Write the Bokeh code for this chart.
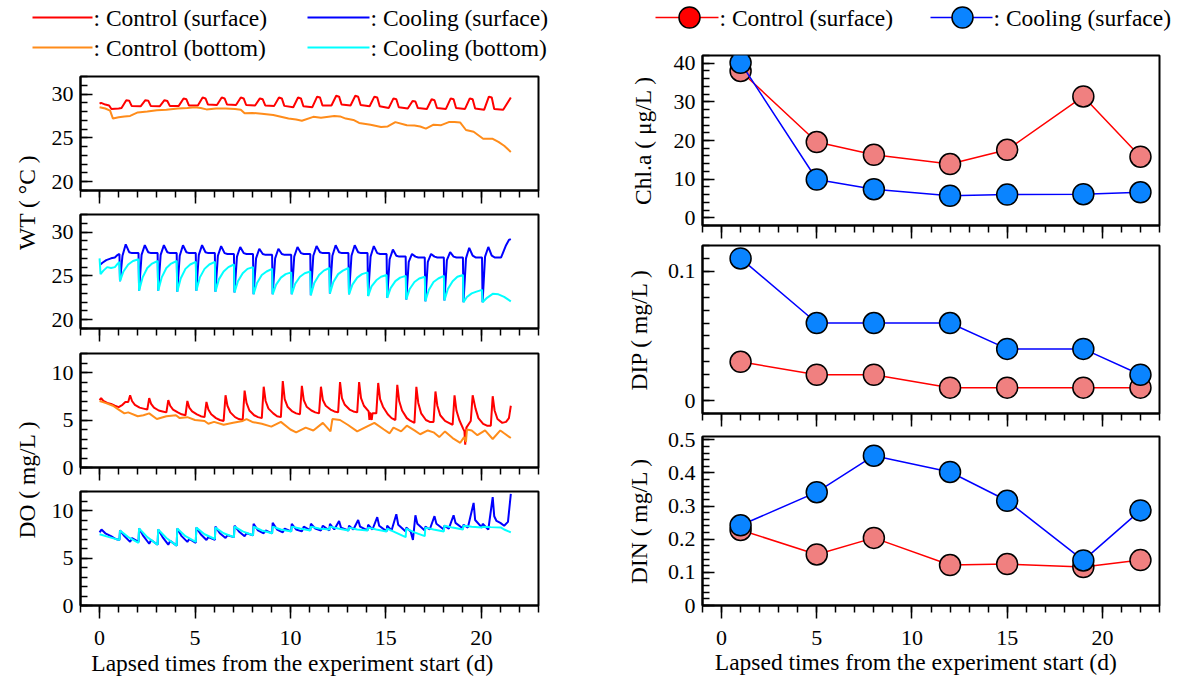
from math import pi
from bokeh.plotting import figure
from bokeh.layouts import column, row
from bokeh.models import Range1d, FixedTicker, CustomJSTickFormatter
from bokeh.core.properties import value
from bokeh.embed import file_html
from bokeh.resources import INLINE

FONT = "Liberation Serif"
TICK_FS = "22px"
LAB_FS = "23.5px"
RED = "#FF0000"
ORANGE = "#FF8C1A"
BLUE = "#0000FF"
CYAN = "#00FFFF"
RED_FILL = "#F08080"
BLUE_FILL = "#0A84FF"

XLABEL = "Lapsed times from the experiment start (d)"
X_MAJOR = [0, 5, 10, 15, 20]
X_MINOR = list(range(-1, 24))

# ---------------- Water temperature, control ----------------
t_wt_cs = [0.00, 0.08, 0.30, 0.50, 0.62, 1.00, 1.15, 1.40, 1.55, 1.68,
           2.15, 2.40, 2.55, 2.68, 3.15, 3.40, 3.55, 3.68, 4.15, 4.40, 4.55, 4.68, 5.15, 5.40, 5.55, 5.68,
           6.15, 6.40, 6.55, 6.68, 7.15, 7.40, 7.55, 7.68, 8.15, 8.40, 8.55, 8.68, 9.15, 9.40, 9.55, 9.68,
           10.15, 10.40, 10.55, 10.68, 11.15, 11.40, 11.55, 11.68, 12.15, 12.40, 12.55, 12.68, 13.15, 13.40, 13.55, 13.68,
           14.15, 14.40, 14.55, 14.68, 15.15, 15.40, 15.55, 15.68, 16.15, 16.40, 16.55, 16.68, 17.15, 17.40, 17.55, 17.68,
           18.15, 18.40, 18.55, 18.68, 19.15, 19.40, 19.55, 19.68, 20.15, 20.40, 20.55, 20.68, 21.15, 21.55]
v_wt_cs = [28.9, 29.0, 28.8, 28.7, 28.3, 28.35, 28.4, 29.3, 29.25, 28.65,
           28.6, 29.3, 29.25, 28.65, 28.6, 29.3, 29.2, 28.65, 28.65, 29.5, 29.4, 28.7, 28.7, 29.6, 29.5, 28.8,
           28.75, 29.6, 29.5, 28.8, 28.75, 29.6, 29.5, 28.75, 28.7, 29.5, 29.4, 28.7, 28.65, 29.6, 29.5, 28.65,
           28.5, 29.6, 29.5, 28.6, 28.5, 29.7, 29.6, 28.7, 28.7, 29.8, 29.7, 28.8, 28.7, 29.8, 29.7, 28.75,
           28.6, 29.7, 29.6, 28.6, 28.4, 29.5, 29.4, 28.5, 28.35, 29.2, 29.15, 28.4, 28.3, 29.4, 29.3, 28.4,
           28.3, 29.5, 29.4, 28.4, 28.3, 29.5, 29.4, 28.35, 28.2, 29.7, 29.6, 28.3, 28.2, 29.6]

t_wt_cb = [0.00, 0.30, 0.55, 0.70, 1.00, 1.30, 1.60, 2.00, 2.50, 3.00, 3.50, 4.10, 4.60, 5.00, 5.30,
           5.60, 6.10, 6.60, 7.10, 7.40, 7.60, 8.00, 8.50, 9.10, 9.50, 9.90, 10.30, 10.60, 11.20, 11.60,
           12.30, 12.60, 12.90, 13.30, 13.60, 14.20, 14.75, 15.10, 15.50, 16.10, 16.50, 16.80, 17.10, 17.50,
           17.90, 18.30, 18.60, 18.90, 19.20, 19.60, 20.10, 20.60, 20.90, 21.20, 21.55]
v_wt_cb = [28.5, 28.35, 28.1, 27.2, 27.35, 27.45, 27.5, 27.9, 28.0, 28.15, 28.2, 28.35, 28.4, 28.5, 28.4,
           28.25, 28.35, 28.35, 28.3, 28.2, 27.8, 27.85, 27.75, 27.6, 27.4, 27.2, 27.1, 26.95, 27.4, 27.3,
           27.5, 27.45, 27.2, 27.05, 26.7, 26.5, 26.25, 26.3, 26.8, 26.45, 26.4, 26.3, 26.05, 26.5,
           26.45, 26.8, 26.8, 26.75, 25.9, 25.7, 24.9, 24.9, 24.55, 24.1, 23.4]

# ---------------- Water temperature, cooling ----------------
t_wt_ks = [0.00, 0.15, 0.35, 0.60, 0.80, 0.95, 1.04,
           1.07, 1.20, 1.37, 1.55, 1.70, 2.04, 2.07, 2.20, 2.37, 2.55, 2.70, 3.04,
           3.07, 3.20, 3.37, 3.55, 3.70, 4.04, 4.07, 4.20, 4.37, 4.55, 4.70, 5.04,
           5.07, 5.20, 5.37, 5.55, 5.70, 6.04, 6.07, 6.20, 6.37, 6.55, 6.70, 7.04,
           7.07, 7.20, 7.37, 7.55, 7.70, 8.04, 8.07, 8.20, 8.37, 8.55, 8.70, 9.04,
           9.07, 9.20, 9.37, 9.55, 9.70, 10.04, 10.07, 10.20, 10.37, 10.55, 10.70, 11.04,
           11.07, 11.20, 11.37, 11.55, 11.70, 12.04, 12.07, 12.20, 12.37, 12.55, 12.70, 13.04,
           13.07, 13.20, 13.37, 13.55, 13.70, 14.04, 14.07, 14.20, 14.37, 14.55, 14.70, 15.04,
           15.07, 15.20, 15.37, 15.55, 15.70, 16.04, 16.07, 16.20, 16.37, 16.55, 16.70, 17.04,
           17.07, 17.20, 17.37, 17.55, 17.70, 18.04, 18.07, 18.20, 18.37, 18.55, 18.70, 19.04,
           19.07, 19.20, 19.37, 19.55, 19.70, 20.04, 20.07, 20.20, 20.37, 20.55, 20.70, 21.04,
           21.30, 21.45, 21.55]
v_wt_ks = [26.2, 26.5, 26.8, 27.0, 27.1, 27.4, 27.5,
           24.4, 27.3, 28.6, 27.7, 27.6, 27.6, 23.3, 27.4, 28.5, 27.7, 27.6, 27.6,
           23.3, 27.4, 28.5, 27.7, 27.6, 27.6, 23.2, 27.3, 28.5, 27.7, 27.6, 27.6,
           23.3, 27.4, 28.5, 27.7, 27.6, 27.6, 23.2, 27.3, 28.4, 27.6, 27.5, 27.5,
           23.1, 27.2, 28.3, 27.6, 27.5, 27.5, 22.9, 27.0, 28.1, 27.5, 27.4, 27.4,
           22.9, 27.0, 28.1, 27.5, 27.4, 27.4, 22.9, 27.2, 28.3, 27.6, 27.5, 27.5,
           22.8, 27.3, 28.4, 27.7, 27.6, 27.6, 23.0, 27.3, 28.5, 27.7, 27.6, 27.6,
           22.9, 27.3, 28.5, 27.7, 27.6, 27.6, 22.7, 27.2, 28.4, 27.6, 27.5, 27.5,
           22.5, 26.9, 28.0, 27.3, 27.2, 27.2, 22.3, 26.6, 27.5, 27.2, 27.1, 27.1,
           22.1, 26.6, 27.5, 27.2, 27.1, 27.1, 22.2, 26.8, 27.7, 27.2, 27.1, 27.1,
           22.0, 27.0, 28.2, 27.3, 27.1, 27.1, 22.0, 27.2, 28.3, 27.3, 27.1, 27.1,
           28.5, 29.1, 29.2]

t_wt_kb = [0.00, 0.05, 0.20, 0.40, 0.60, 0.80, 0.95, 1.04,
           1.07, 1.25, 1.50, 1.75, 2.04, 2.07, 2.25, 2.50, 2.75, 3.04, 3.07, 3.25, 3.50, 3.75, 4.04,
           4.07, 4.25, 4.50, 4.75, 5.04, 5.07, 5.25, 5.50, 5.75, 6.04, 6.07, 6.25, 6.50, 6.75, 7.04,
           7.07, 7.25, 7.50, 7.75, 8.04, 8.07, 8.25, 8.50, 8.75, 9.04, 9.07, 9.25, 9.50, 9.75, 10.04,
           10.07, 10.25, 10.50, 10.75, 11.04, 11.07, 11.25, 11.50, 11.75, 12.04, 12.07, 12.25, 12.50, 12.75, 13.04,
           13.07, 13.25, 13.50, 13.75, 14.04, 14.07, 14.25, 14.50, 14.75, 15.04, 15.07, 15.25, 15.50, 15.75, 16.04,
           16.07, 16.25, 16.50, 16.75, 17.04, 17.07, 17.25, 17.50, 17.75, 18.04, 18.07, 18.25, 18.50, 18.75, 19.04,
           19.07, 19.25, 19.50, 19.75, 20.04, 20.07, 20.30, 20.60, 20.90, 21.20, 21.55]
v_wt_kb = [27.0, 25.2, 25.6, 26.0, 25.9, 26.0, 26.4, 26.6,
           24.4, 25.5, 26.3, 26.7, 26.9, 23.3, 24.8, 25.9, 26.4, 26.7, 23.3, 24.8, 25.9, 26.4, 26.7,
           23.2, 24.7, 25.8, 26.3, 26.6, 23.3, 24.8, 25.8, 26.3, 26.6, 23.2, 24.6, 25.5, 26.0, 26.3,
           23.1, 24.4, 25.3, 25.8, 26.0, 22.9, 24.2, 25.1, 25.5, 25.8, 22.9, 24.0, 24.8, 25.2, 25.4,
           22.9, 24.1, 24.9, 25.3, 25.5, 22.8, 24.2, 25.1, 25.6, 25.9, 23.0, 24.3, 25.2, 25.6, 25.9,
           22.9, 24.0, 24.8, 25.2, 25.4, 22.7, 23.8, 24.5, 24.9, 25.1, 22.5, 23.6, 24.4, 24.8, 25.0,
           22.3, 23.5, 24.3, 24.7, 24.9, 22.1, 23.4, 24.3, 24.7, 25.0, 22.2, 23.5, 24.4, 24.9, 25.1,
           22.0, 22.6, 23.0, 23.2, 23.4, 22.0, 22.5, 22.95, 22.9, 22.6, 22.1]

# ---------------- Dissolved oxygen, control ----------------
t_do_cs = [0.00, 0.08, 0.20, 0.40, 0.60, 0.80, 1.00, 1.20, 1.35, 1.50,
           1.60, 1.70, 1.85, 2.10, 2.30, 2.50, 2.60, 2.70, 2.85, 3.10, 3.30, 3.50,
           3.60, 3.70, 3.85, 4.10, 4.30, 4.50, 4.60, 4.70, 4.85, 5.10, 5.30, 5.50,
           5.60, 5.70, 5.85, 6.10, 6.30, 6.50, 6.60, 6.70, 6.85, 7.10, 7.30, 7.50,
           7.60, 7.70, 7.85, 8.10, 8.30, 8.50, 8.60, 8.70, 8.85, 9.10, 9.30, 9.50,
           9.60, 9.70, 9.85, 10.10, 10.30, 10.50, 10.60, 10.70, 10.85, 11.10, 11.30, 11.50,
           11.60, 11.70, 11.85, 12.10, 12.30, 12.50, 12.60, 12.70, 12.85, 13.10, 13.30, 13.50,
           13.60, 13.70, 13.85, 14.10, 14.14, 14.18, 14.26, 14.30, 14.50,
           14.60, 14.70, 14.85, 15.10, 15.30, 15.50, 15.60, 15.70, 15.85, 16.10, 16.30, 16.50,
           16.60, 16.70, 16.85, 17.10, 17.30, 17.50, 17.60, 17.70, 17.85, 18.10, 18.30, 18.50,
           18.60, 18.70, 18.85, 19.05, 19.12, 19.16, 19.22, 19.45,
           19.55, 19.70, 19.85, 20.10, 20.30, 20.50, 20.60, 20.70, 20.85, 21.10, 21.30, 21.45, 21.55]
v_do_cs = [7.1, 7.3, 7.0, 6.8, 6.7, 6.5, 6.35, 6.6, 6.9, 6.9,
           7.6, 7.0, 6.6, 6.3, 6.2, 6.1, 7.3, 6.7, 6.3, 6.0, 5.9, 5.8,
           7.1, 6.5, 6.1, 5.8, 5.6, 5.5, 7.0, 6.3, 5.9, 5.6, 5.4, 5.3,
           6.9, 6.1, 5.6, 5.2, 5.0, 4.9, 7.6, 6.5, 5.8, 5.3, 5.1, 5.0,
           8.1, 6.8, 6.0, 5.5, 5.3, 5.2, 8.5, 7.0, 6.2, 5.7, 5.4, 5.3,
           9.1, 7.2, 6.4, 5.9, 5.7, 5.6, 8.6, 7.1, 6.4, 6.0, 5.8, 5.7,
           8.5, 7.1, 6.5, 6.1, 5.9, 5.8, 9.0, 7.3, 6.6, 6.1, 5.9, 5.8,
           9.0, 7.3, 6.5, 5.9, 5.0, 5.8, 5.0, 5.7, 5.7,
           8.9, 7.2, 6.4, 5.6, 5.2, 5.0, 8.7, 7.0, 6.0, 5.2, 4.9, 4.7,
           8.5, 6.8, 5.7, 5.0, 4.8, 4.8, 8.0, 6.5, 5.5, 4.9, 4.7, 4.5,
           7.6, 6.0, 5.0, 4.1, 3.8, 2.4, 4.2, 4.9,
           7.6, 6.2, 5.2, 4.6, 4.4, 4.4, 7.5, 6.0, 5.1, 4.7, 4.8, 5.2, 6.5]

t_do_cb = [0.00, 0.30, 0.70, 1.00, 1.30, 1.50, 2.00, 2.30, 2.60, 3.00, 3.50, 4.00, 4.20, 4.60, 5.00,
           5.50, 5.70, 6.00, 6.50, 7.00, 7.50, 7.70, 8.00, 8.50, 9.00, 9.50, 10.00, 10.30, 10.80, 11.20,
           11.70, 12.10, 12.20, 12.60, 13.00, 13.50, 14.00, 14.40, 14.90, 15.20, 15.40, 15.80, 16.10, 16.50,
           16.80, 17.20, 17.50, 17.80, 18.10, 18.50, 18.90, 19.10, 19.20, 19.25, 19.50, 19.80, 20.20, 20.60,
           21.00, 21.20, 21.55]
v_do_cb = [7.0, 6.8, 6.5, 6.1, 5.7, 5.8, 5.4, 5.5, 5.7, 5.1, 5.4, 5.5, 5.2, 5.3, 5.0,
           4.9, 4.6, 4.8, 4.5, 4.7, 4.9, 5.1, 4.8, 4.6, 4.3, 4.8, 4.0, 3.7, 4.2, 3.9,
           4.7, 3.8, 5.1, 5.0, 4.5, 3.8, 4.3, 4.7, 4.0, 3.6, 4.2, 3.8, 4.4, 3.9,
           3.5, 3.9, 3.7, 3.2, 3.8, 3.1, 2.6, 3.2, 2.7, 4.0, 3.9, 3.4, 3.9, 3.0,
           3.9, 3.6, 3.1]

# ---------------- Dissolved oxygen, cooling ----------------
t_do_ks = [0.00, 0.10, 0.30, 0.60, 0.85, 1.04,
           1.07, 1.30, 1.60, 1.70, 2.04, 2.07, 2.30, 2.60, 2.70, 3.04, 3.07, 3.30, 3.60, 3.70, 4.04,
           4.07, 4.30, 4.60, 4.70, 5.04, 5.07, 5.30, 5.60, 5.70, 6.04, 6.07, 6.30, 6.60, 6.70, 7.04,
           7.07, 7.30, 7.60, 7.70, 8.04, 8.07, 8.30, 8.60, 8.70, 9.04, 9.07, 9.30, 9.60, 9.70, 10.04,
           10.07, 10.30, 10.60, 10.70, 11.04, 11.07, 11.30, 11.60, 11.70, 12.04,
           12.07, 12.30, 12.55, 12.65, 13.04, 13.07, 13.30, 13.55, 13.65, 14.04,
           14.07, 14.30, 14.55, 14.65, 15.04, 15.07, 15.30, 15.55, 15.65, 16.04,
           16.07, 16.30, 16.42, 16.55, 16.65, 17.04, 17.07, 17.30, 17.55, 17.65, 18.04,
           18.07, 18.30, 18.55, 18.65, 19.04, 19.07, 19.30, 19.60, 19.68, 20.04,
           20.07, 20.37, 20.60, 20.68, 20.80, 21.00, 21.20, 21.40, 21.55]
v_do_ks = [7.7, 8.0, 7.6, 7.3, 7.0, 6.9,
           7.9, 7.3, 6.7, 7.1, 6.7, 8.1, 7.3, 6.5, 6.9, 6.4, 8.0, 7.2, 6.4, 6.8, 6.3,
           8.1, 7.3, 6.7, 7.0, 6.6, 8.2, 7.5, 6.9, 7.2, 6.9, 8.3, 7.6, 7.1, 7.4, 7.2,
           8.4, 7.8, 7.3, 7.6, 7.4, 8.6, 7.9, 7.6, 7.9, 7.6, 8.7, 8.0, 7.7, 8.1, 7.8,
           8.6, 8.0, 7.8, 8.3, 7.9, 8.6, 8.1, 7.9, 8.4, 7.9,
           8.6, 8.0, 8.9, 8.2, 7.9, 8.4, 8.0, 9.0, 8.3, 7.9,
           8.5, 8.0, 9.3, 8.4, 7.8, 8.4, 7.9, 9.6, 8.5, 7.8,
           8.2, 7.8, 6.9, 9.5, 8.6, 7.9, 8.3, 8.0, 9.4, 8.6, 8.0,
           8.4, 8.1, 9.5, 8.7, 8.1, 8.5, 8.2, 10.8, 9.0, 8.2,
           8.6, 8.0, 11.4, 9.4, 8.9, 8.7, 8.4, 8.8, 11.75]

t_do_kb = [0.00, 0.50, 1.04,
           1.07, 1.50, 2.04, 2.07, 2.50, 3.04, 3.07, 3.50, 4.04, 4.07, 4.50, 5.04, 5.07, 5.50, 6.04,
           6.07, 6.50, 7.04, 7.07, 7.50, 8.04, 8.07, 8.50, 9.04, 9.07, 9.50, 10.04, 10.07, 10.50, 11.04,
           11.07, 11.50, 12.04, 12.07, 12.50, 13.04, 13.07, 13.50, 14.04, 14.07, 14.50, 15.04,
           15.07, 15.50, 16.04, 16.07, 16.50, 17.04, 17.07, 17.50, 18.04, 18.07, 18.50, 19.04,
           19.07, 19.50, 20.04, 20.07, 20.50, 21.04, 21.20, 21.55]
v_do_kb = [7.5, 7.2, 6.9,
           7.9, 7.2, 6.6, 8.1, 7.2, 6.4, 8.0, 7.1, 6.3, 8.1, 7.3, 6.7, 8.2, 7.5, 7.0,
           8.2, 7.6, 7.2, 8.3, 7.8, 7.4, 8.3, 7.9, 7.6, 8.3, 8.0, 7.8, 8.3, 8.1, 7.9,
           8.3, 8.1, 8.0, 8.3, 8.1, 7.9, 8.2, 8.0, 7.9, 8.2, 8.0, 7.8,
           8.1, 7.7, 7.2, 8.1, 7.7, 7.3, 8.2, 8.0, 7.8, 8.4, 8.2, 8.0,
           8.4, 8.3, 8.2, 8.3, 8.25, 8.2, 8.0, 7.7]

# ---------------- Water quality samples ----------------
sample_days = [1, 5, 8, 12, 15, 19, 22]
chla_control = [38.0, 19.6, 16.3, 13.9, 17.6, 31.4, 15.8]
chla_cooling = [40.1, 9.9, 7.4, 5.7, 6.0, 6.1, 6.6]
dip_control = [0.030, 0.020, 0.020, 0.010, 0.010, 0.010, 0.010]
dip_cooling = [0.110, 0.060, 0.060, 0.060, 0.040, 0.040, 0.020]
din_control = [0.228, 0.154, 0.204, 0.122, 0.125, 0.116, 0.137]
din_cooling = [0.242, 0.342, 0.452, 0.403, 0.316, 0.136, 0.287]

legend_left_labels = [": Control (surface)", ": Cooling (surface)", ": Control (bottom)", ": Cooling (bottom)"]
legend_right_labels = [": Control (surface)", ": Cooling (surface)"]


def base(**kw):
    return figure(toolbar_location=None, output_backend="svg", tools="", **kw)


def panel(yr, ymaj, ymin, fw, fh, mbl, mbr, mbt, mbb, xlabels=False, ylabel=None, yfmt=False, als=10):
    p = base(frame_width=fw, frame_height=fh, x_range=Range1d(-1, 23), y_range=Range1d(*yr),
             min_border_left=mbl, min_border_right=mbr, min_border_top=mbt, min_border_bottom=mbb)
    p.xgrid.visible = False
    p.ygrid.visible = False
    p.outline_line_color = "black"
    p.outline_line_width = 2
    p.outline_line_alpha = 1
    xa = p.xaxis[0]
    xa.ticker = FixedTicker(ticks=X_MAJOR, minor_ticks=X_MINOR)
    xa.major_tick_out = 13
    xa.major_tick_in = 0
    xa.minor_tick_out = 7
    xa.minor_tick_in = 0
    xa.axis_line_width = 2
    xa.axis_line_color = "black"
    xa.major_tick_line_width = 1.5
    xa.minor_tick_line_width = 1.5
    xa.major_tick_line_color = "black"
    xa.minor_tick_line_color = "black"
    xa.major_label_text_font = FONT
    xa.major_label_text_color = "black"
    if xlabels:
        xa.major_label_text_font_size = TICK_FS
        xa.major_label_standoff = 12
    else:
        xa.formatter = CustomJSTickFormatter(code="return '';")
        xa.major_label_text_font_size = "1px"
        xa.major_label_standoff = 0
    ya = p.yaxis[0]
    ya.ticker = FixedTicker(ticks=ymaj, minor_ticks=ymin)
    ya.major_tick_in = 12
    ya.major_tick_out = 0
    ya.minor_tick_in = 7
    ya.minor_tick_out = 0
    ya.axis_line_width = 2
    ya.axis_line_color = "black"
    ya.major_tick_line_width = 1.5
    ya.minor_tick_line_width = 1.5
    ya.major_tick_line_color = "black"
    ya.minor_tick_line_color = "black"
    ya.major_label_text_font = FONT
    ya.major_label_text_font_size = TICK_FS
    ya.major_label_text_color = "black"
    ya.major_label_standoff = 7
    if yfmt:
        ya.formatter = CustomJSTickFormatter(code="return String(Math.round(tick*1000)/1000);")
    if ylabel:
        ya.axis_label = ylabel
        ya.axis_label_text_font = FONT
        ya.axis_label_text_font_size = LAB_FS
        ya.axis_label_text_font_style = "normal"
        ya.axis_label_text_color = "black"
        ya.axis_label_standoff = als
    return p


def text_kw(**kw):
    d = dict(text_font=value(FONT), text_font_size=LAB_FS, text_baseline="middle", text_color="black",
             level="overlay")
    d.update(kw)
    return d


# ---------------- left block (page x 0..600) ----------------
LFW, LFH, LMBL, LMBR = 458, 114, 34, 62
p1 = panel((19, 32), [20, 25, 30], list(range(19, 33)), LFW, LFH, LMBL, LMBR, 10, 22)
p2 = panel((19, 32), [20, 25, 30], list(range(19, 33)), LFW, LFH, LMBL, LMBR, 2, 23)
p3 = panel((0, 12), [0, 5, 10], list(range(0, 13)), LFW, LFH, LMBL, LMBR, 2, 22)
p4 = panel((0, 12), [0, 5, 10], list(range(0, 13)), LFW, LFH, LMBL, LMBR, 2, 72, xlabels=True)

p1.line(t_wt_cs, v_wt_cs, line_color=RED, line_width=2)
p1.line(t_wt_cb, v_wt_cb, line_color=ORANGE, line_width=2)
p2.line(t_wt_ks, v_wt_ks, line_color=BLUE, line_width=2)
p2.line(t_wt_kb, v_wt_kb, line_color=CYAN, line_width=2)
p3.line(t_do_cs, v_do_cs, line_color=RED, line_width=2)
p3.line(t_do_cb, v_do_cb, line_color=ORANGE, line_width=2)
p4.line(t_do_ks, v_do_ks, line_color=BLUE, line_width=2)
p4.line(t_do_kb, v_do_kb, line_color=CYAN, line_width=2)
# x axis title below the bottom-left panel (57 px under the frame)
p4.text(x=[10.1], y=[-6.0], text=[XLABEL], **text_kw(text_align="center"))

# legend (left): x = page x, y = -page y
legL = base(width=600, height=66, x_range=Range1d(0, 600), y_range=Range1d(-66, 0),
            min_border=0, min_border_left=0, min_border_right=0, min_border_top=0, min_border_bottom=0,
            x_axis_type=None, y_axis_type=None)
legL.outline_line_color = None
legL.segment(x0=[32, 307, 32, 307], y0=[-17, -17, -47, -47], x1=[92, 369, 92, 369], y1=[-17, -17, -47, -47],
             line_color=[RED, BLUE, ORANGE, CYAN], line_width=2, level="overlay")
legL.text(x=[93, 370, 93, 370], y=[-17, -17, -47, -47], text=legend_left_labels, **text_kw(text_align="left"))

# y labels spanning the panel pairs: x = page x, y = -page y (frame covers page y 76..605)
labL = base(width=46, height=611, x_range=Range1d(0, 46), y_range=Range1d(-605, -76),
            min_border=0, min_border_left=0, min_border_right=0, min_border_top=10, min_border_bottom=72,
            x_axis_type=None, y_axis_type=None)
labL.outline_line_color = None
labL.text(x=[26, 26], y=[-202, -479], text=["WT ( °C )", "DO ( mg/L )"], angle=pi / 2,
          **text_kw(text_align="center"))

left_block = column(legL, row(labL, column(p1, p2, p3, p4)))

# ---------------- right block (page x 600..1178) ----------------
RFW, RMBL, RMBR = 457, 102, 19
r1 = panel((-2, 42), [0, 10, 20, 30, 40], list(range(-2, 43, 2)), RFW, 170, RMBL, RMBR, 10, 18,
           ylabel="Chl.a ( μg/L )", als=15)
r2 = panel((-0.01, 0.12), [0, 0.1], [round(i * 0.01, 2) for i in range(-1, 13)], RFW, 168, RMBL, RMBR, 2, 14,
           ylabel="DIP ( mg/L )", yfmt=True, als=13)
r3 = panel((0, 0.51), [0, 0.1, 0.2, 0.3, 0.4, 0.5], [round(i * 0.02, 2) for i in range(0, 26)], RFW, 169,
           RMBL, RMBR, 9, 72, xlabels=True, ylabel="DIN ( mg/L )", yfmt=True, als=13)

for r, ctrl, cool in ((r1, chla_control, chla_cooling), (r2, dip_control, dip_cooling), (r3, din_control, din_cooling)):
    r.line(sample_days, ctrl, line_color=RED, line_width=1.5)
    r.scatter(sample_days, ctrl, size=21, fill_color=RED_FILL, line_color="black", line_width=1.5)
    r.line(sample_days, cool, line_color=BLUE, line_width=1.5)
    r.scatter(sample_days, cool, size=21, fill_color=BLUE_FILL, line_color="black", line_width=1.5)
# x axis title below the bottom-right panel (57 px under the frame)
r3.text(x=[10.2], y=[-0.172], text=[XLABEL], **text_kw(text_align="center"))

# legend (right): same frame as the panels below; x = page x, y = -page y
legR = base(frame_width=RFW, frame_height=45, x_range=Range1d(702, 1159), y_range=Range1d(-45, 0),
            min_border=0, min_border_left=RMBL, min_border_right=RMBR, min_border_top=0, min_border_bottom=0,
            x_axis_type=None, y_axis_type=None)
legR.outline_line_color = None
legR.segment(x0=[655, 930], y0=[-17, -17], x1=[718, 992], y1=[-17, -17], line_color=[RED, BLUE],
             line_width=1.5, level="overlay")
legR.scatter(x=[689, 962], y=[-17, -17], size=21, fill_color=[RED, BLUE_FILL], line_color="black",
             line_width=1.5, level="overlay")
legR.text(x=[719, 993], y=[-17, -17], text=legend_right_labels, **text_kw(text_align="left"))

right_block = column(legR, r1, r2, r3)

layout = row(left_block, right_block)
open("out.html", "w").write(file_html(layout, INLINE))
